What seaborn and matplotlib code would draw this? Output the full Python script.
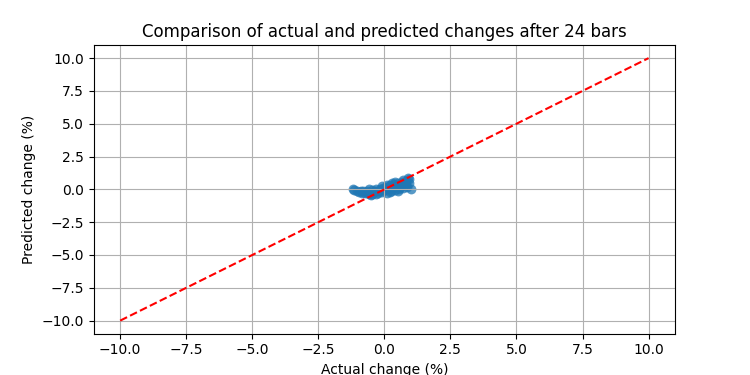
import matplotlib
matplotlib.use("Agg")
import matplotlib.pyplot as plt
import seaborn as sns
import pandas as pd

# actual vs predicted % change after 24 bars
actual = [-1.2, -1.15, -1.05, -0.95, -0.9, -0.85, -0.8, -0.75, -0.7, -0.65,
          -0.6, -0.55, -0.5, -0.45, -0.4, -0.35, -0.3, -0.25, -0.2, -0.15,
          -0.1, -0.05, 0.0, 0.05, 0.1, 0.15, 0.2, 0.25, 0.3, 0.35,
          0.4, 0.45, 0.5, 0.55, 0.6, 0.65, 0.7, 0.75, 0.8, 0.85,
          0.9, 0.95, 1.0, -0.6, -0.3, 0.1, 0.4, 0.7, 0.2, -0.1,
          0.5, 0.8, -0.45, 0.3, 0.95, 0.6]
predicted = [0.05, -0.05, -0.15, -0.2, -0.1, -0.25, -0.15, -0.3, -0.2, -0.1,
             -0.35, -0.25, -0.4, -0.05, -0.2, -0.15, 0.0, -0.3, -0.1, 0.05,
             -0.2, 0.1, -0.05, 0.2, -0.3, 0.0, 0.3, -0.1, 0.15, 0.4,
             -0.05, 0.25, 0.5, 0.05, 0.35, 0.6, 0.1, 0.45, 0.65, 0.2,
             0.85, 0.5, 0.0, 0.05, -0.35, 0.35, 0.55, 0.7, -0.2, 0.25,
             -0.15, 0.3, -0.35, 0.5, 0.8, 0.15]

df = pd.DataFrame({"actual": actual, "predicted": predicted})

fig, ax = plt.subplots(figsize=(7.5, 3.75), dpi=100)

sns.scatterplot(data=df, x="actual", y="predicted", ax=ax,
                color="#1f77b4", s=50, alpha=0.75, linewidth=0)

# ideal line
ax.plot([-10, 10], [-10, 10], "r--")

ax.set_xlabel("Actual change (%)")
ax.set_ylabel("Predicted change (%)")
ax.set_title("Comparison of actual and predicted changes after 24 bars")
ax.grid(True)

plt.savefig("out.png", dpi=100)
